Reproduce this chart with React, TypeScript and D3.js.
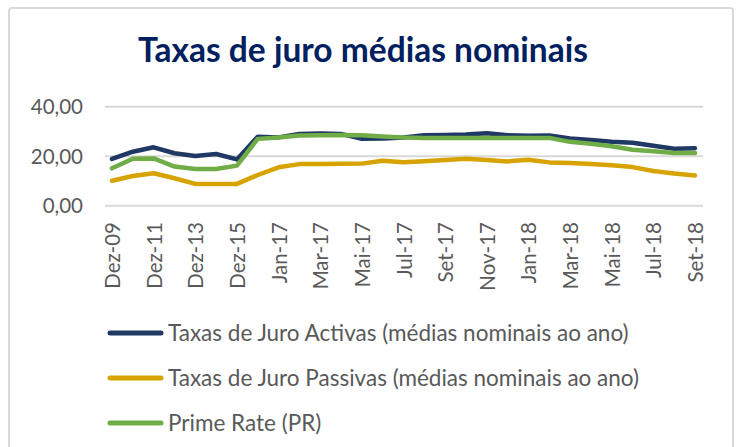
import React from "react";
import * as d3 from "d3";

const categories = [
  "Dez-09","Dez-10","Dez-11","Dez-12","Dez-13","Dez-14","Dez-15","Dez-16",
  "Jan-17","Fev-17","Mar-17","Abr-17","Mai-17","Jun-17","Jul-17","Ago-17","Set-17","Out-17","Nov-17","Dez-17",
  "Jan-18","Fev-18","Mar-18","Abr-18","Mai-18","Jun-18","Jul-18","Ago-18","Set-18"
];
const activas = [18.9,21.8,23.6,21.2,20.1,20.9,18.7,27.9,27.6,29.0,29.2,29.0,27.0,27.2,27.6,28.5,28.6,28.8,29.3,28.5,28.3,28.4,27.2,26.5,25.8,25.4,24.2,23.0,23.2];
const passivas = [10.1,12.0,13.1,11.1,8.8,8.8,8.8,12.4,15.5,16.8,16.8,16.9,17.0,18.2,17.6,18.0,18.5,19.0,18.5,17.9,18.6,17.5,17.3,16.8,16.3,15.6,14.0,13.0,12.2];
const prime = [15.1,19.0,19.1,15.8,14.8,14.8,16.2,27.0,27.6,28.4,28.5,28.6,28.5,28.0,27.6,27.4,27.4,27.4,27.4,27.4,27.4,27.4,25.8,25.0,24.0,22.6,22.0,21.3,21.3];
const yTicks = [0, 20, 40];
const seriesNames = [
  "Taxas de Juro Activas (médias nominais ao ano)",
  "Taxas de Juro Passivas (médias nominais ao ano)",
  "Prime Rate (PR)"
];
const colors = ["#203864", "#D6A300", "#70AD47"];
const title = "Taxas de juro médias nominais";

export default function App() {
  const W = 741, H = 447;
  const x = d3.scalePoint<string>().domain(categories).range([112, 695]);
  const y = d3.scaleLinear().domain([0, 40]).range([205.7, 106.7]);
  const line = d3.line<number>().x((_, i) => x(categories[i])!).y(d => y(d));
  const series = [activas, passivas, prime];
  const drawOrder = [1, 0, 2];
  const font = "Lato, 'Open Sans', sans-serif";
  const fmt = (v: number) => v.toFixed(2).replace(".", ",");
  return (
    <svg width={W} height={H} style={{ position: "absolute", left: 0, top: 0, background: "#fff" }}>
      <rect x={9} y={8} width={724} height={460} rx={3} fill="#fff" stroke="#D9D9D9" strokeWidth={2} />
      <text x={363} y={62} textAnchor="middle" fontFamily={font} fontWeight={700} fontSize={33.5} fill="#002060">{title}</text>
      {yTicks.map(t => (
        <g key={t}>
          <line x1={105} x2={703} y1={y(t)} y2={y(t)} stroke="#D9D9D9" strokeWidth={2} />
          <text x={83} y={y(t)} dy="0.36em" textAnchor="end" fontFamily={font} fontSize={20.5} fill="#595959">{fmt(t)}</text>
        </g>
      ))}
      {categories.map((c, i) => i % 2 === 0 ? (
        <text key={c} transform={`translate(${x(c)! + 8},222) rotate(-90)`} textAnchor="end" fontFamily={font} fontSize={20.5} fill="#595959">{c}</text>
      ) : null)}
      {drawOrder.map(si => (
        <path key={si} d={line(series[si])!} fill="none" stroke={colors[si]} strokeWidth={4.5} strokeLinejoin="round" strokeLinecap="round" />
      ))}
      {seriesNames.map((n, i) => {
        const ly = [333, 378, 423][i];
        return (
          <g key={n}>
            <line x1={110} x2={161} y1={ly} y2={ly} stroke={colors[i]} strokeWidth={5} strokeLinecap="round" />
            <text x={168} y={ly} dy="0.36em" fontFamily={font} fontSize={22.5} fill="#595959">{n}</text>
          </g>
        );
      })}
    </svg>
  );
}
